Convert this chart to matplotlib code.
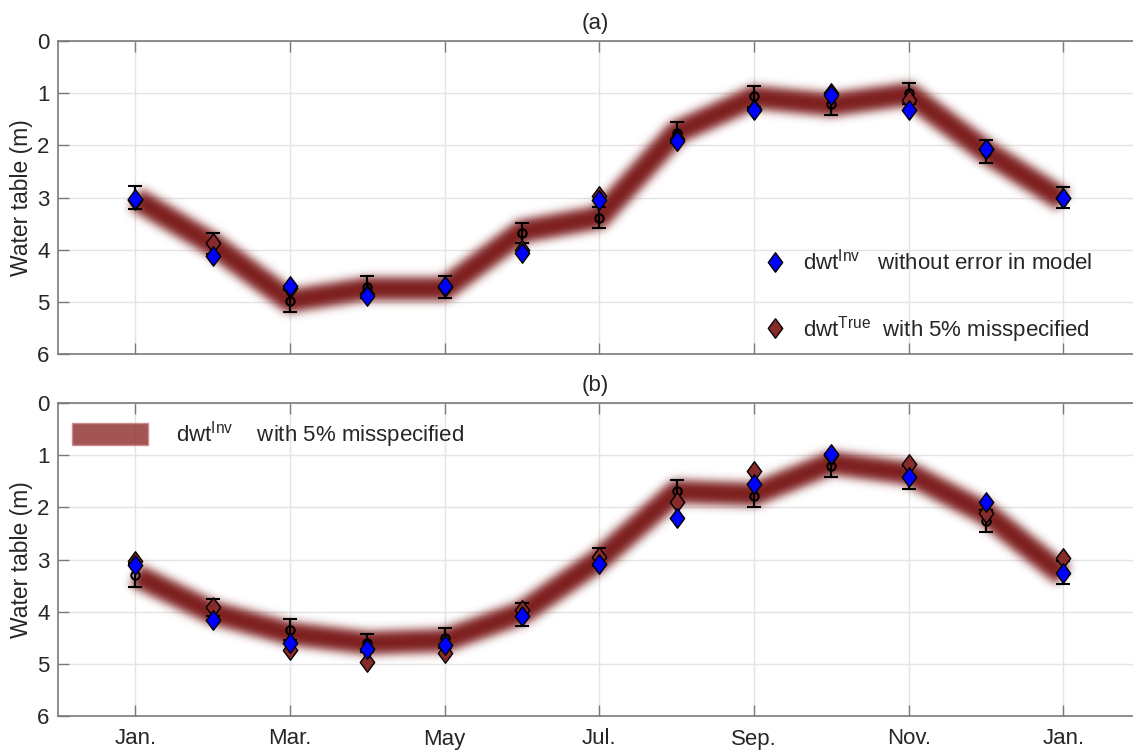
import matplotlib
matplotlib.use("Agg")
import matplotlib.pyplot as plt
from matplotlib.lines import Line2D
from matplotlib.patches import Patch
from matplotlib.path import Path
from matplotlib.colors import to_rgb
import numpy as np

plt.rcParams['font.family'] = ['Liberation Sans', 'DejaVu Sans']
plt.rcParams['mathtext.fontset'] = 'custom'
plt.rcParams['mathtext.rm'] = 'Liberation Sans'
plt.rcParams['mathtext.it'] = 'Liberation Sans:italic'

# Month index (0 = January of the first year, 12 = January of the next)
months = list(range(13))
tick_months = [0, 2, 4, 6, 8, 10, 12]
tick_labels = ["Jan.", "Mar.", "May", "Jul.", "Sep.", "Nov.", "Jan."]

# (a) depth to water table, m
band_a = [3.02, 3.90, 4.98, 4.75, 4.75, 3.65, 3.38, 1.75, 1.08, 1.22, 1.02, 2.12, 3.05]
obs_a = [3.00, 3.88, 4.98, 4.72, 4.72, 3.68, 3.39, 1.76, 1.06, 1.21, 1.00, 2.12, 3.00]
err_a = [0.23, 0.20, 0.21, 0.21, 0.21, 0.19, 0.20, 0.20, 0.20, 0.21, 0.20, 0.22, 0.20]
inv_a = [3.02, 4.12, 4.70, 4.88, 4.70, 4.06, 3.04, 1.92, 1.33, 1.04, 1.32, 2.07, 3.00]
true_a = [3.05, 3.87, 4.74, 4.85, 4.72, 4.00, 2.98, 1.88, 1.30, 1.00, 1.13, 2.07, 3.00]

# (b) depth to water table, m
band_b = [3.30, 4.02, 4.42, 4.60, 4.55, 4.02, 3.00, 1.70, 1.75, 1.15, 1.35, 2.12, 3.30]
obs_b = [3.30, 3.92, 4.35, 4.60, 4.51, 4.05, 2.95, 1.68, 1.78, 1.20, 1.42, 2.27, 3.25]
err_b = [0.22, 0.17, 0.20, 0.17, 0.19, 0.22, 0.18, 0.21, 0.22, 0.22, 0.22, 0.21, 0.22]
inv_b = [3.11, 4.16, 4.60, 4.72, 4.64, 4.08, 3.09, 2.20, 1.55, 0.98, 1.42, 1.90, 3.25]
true_b = [3.02, 3.91, 4.74, 4.96, 4.80, 3.97, 2.95, 1.90, 1.30, 1.00, 1.17, 2.10, 2.97]

band_color = '#7d1d1d'
true_color = '#862a2a'
inv_color = '#0000ff'
axis_color = '#7a7a7a'
text_color = '#262626'

# tall diamond marker
diamond = Path([(0, 1), (0.74, 0), (0, -1), (-0.74, 0), (0, 1)],
               [Path.MOVETO, Path.LINETO, Path.LINETO, Path.LINETO, Path.CLOSEPOLY])

W, H, DPI = 1133, 753, 100
fig = plt.figure(figsize=(W / DPI, H / DPI), dpi=DPI)
ax_a = fig.add_axes([58 / W, 1 - 354 / H, 1 - 58 / W, 313 / H])
ax_b = fig.add_axes([58 / W, 1 - 716 / H, 1 - 58 / W, 313 / H])
XLIM, YLIM = (-1, 12.9), (6, 0)


def gaussian_blur(img, sigma):
    r = int(3 * sigma)
    k = np.exp(-0.5 * (np.arange(-r, r + 1) / sigma) ** 2)
    k /= k.sum()
    img = np.apply_along_axis(lambda v: np.convolve(v, k, mode='same'), 0, img)
    img = np.apply_along_axis(lambda v: np.convolve(v, k, mode='same'), 1, img)
    return img


def soft_band(ax, x, y, lw=16.5, sigma=4.6):
    # draw the ribbon on a scratch canvas with the same axes geometry, then blur it
    scratch = plt.figure(figsize=(W / DPI, H / DPI), dpi=DPI)
    sax = scratch.add_axes(ax.get_position().bounds)
    sax.set_xlim(XLIM)
    sax.set_ylim(YLIM)
    sax.axis('off')
    sax.plot(x, y, color='black', lw=lw, solid_joinstyle='round',
             solid_capstyle='butt')
    scratch.canvas.draw()
    buf = np.asarray(scratch.canvas.buffer_rgba())[..., 0].astype(float)
    bb = sax.get_window_extent()
    plt.close(scratch)
    r0, r1 = int(round(H - bb.y1)), int(round(H - bb.y0))
    c0, c1 = int(round(bb.x0)), int(round(bb.x1))
    mask = 1.0 - buf[r0:r1, c0:c1] / 255.0
    alpha = np.clip(gaussian_blur(mask, sigma), 0, 1)
    rgba = np.zeros(alpha.shape + (4,))
    rgba[..., :3] = to_rgb(band_color)
    rgba[..., 3] = alpha
    ax.imshow(rgba, extent=(XLIM[0], XLIM[1], YLIM[0], YLIM[1]), aspect='auto',
              interpolation='bilinear', zorder=2)


def panel(ax, band, obs, err, inv, true, title):
    soft_band(ax, months, band)
    ax.errorbar(months, obs, yerr=err, fmt='o', ms=6, mfc='none', mec='black',
                mew=1.5, ecolor='black', elinewidth=1.6, capsize=5, capthick=1.6,
                zorder=3)
    ax.plot(months, true, ls='none', marker=diamond, ms=14, mfc=true_color,
            mec='black', mew=1.0, zorder=4)
    ax.plot(months, inv, ls='none', marker=diamond, ms=14, mfc=inv_color,
            mec='black', mew=1.0, zorder=5)
    ax.set_xlim(XLIM)
    ax.set_ylim(YLIM)
    ax.set_yticks([0, 1, 2, 3, 4, 5, 6])
    ax.set_xticks(tick_months)
    ax.grid(True, color='#e4e4e4', lw=1.0, zorder=0)
    ax.set_axisbelow(True)
    for side in ['left', 'bottom', 'top']:
        ax.spines[side].set_color(axis_color)
        ax.spines[side].set_linewidth(1.2)
    ax.spines['right'].set_visible(False)
    ax.tick_params(axis='both', direction='in', length=8, width=1.0,
                   color=axis_color, labelcolor=text_color, labelsize=16,
                   top=True, right=False)
    ax.tick_params(axis='y', pad=6)
    ax.tick_params(axis='x', pad=9)
    ax.set_ylabel('Water table (m)', fontsize=16.5, color=text_color, labelpad=3)
    ax.set_title(title, fontsize=16, color=text_color, pad=9)


panel(ax_a, band_a, obs_a, err_a, inv_a, true_a, '(a)')
panel(ax_b, band_b, obs_b, err_b, inv_b, true_b, '(b)')
ax_a.set_xticklabels([])
ax_b.set_xticklabels(tick_labels)

handles_a = [
    Line2D([], [], ls='none', marker=diamond, ms=14, mfc=inv_color, mec='black', mew=1.0),
    Line2D([], [], ls='none', marker=diamond, ms=14, mfc=true_color, mec='black', mew=1.0),
]
labels_a = [r'dwt$^{\mathrm{Inv}}$   without error in model',
            r'dwt$^{\mathrm{True}}$  with 5% misspecified']
ax_a.legend(handles_a, labels_a, loc='upper left', bbox_to_anchor=(765 / W, 1 - 249 / H),
            bbox_transform=fig.transFigure, frameon=False, fontsize=16,
            handlelength=0.9, handletextpad=0.8, labelspacing=1.75,
            borderpad=0, borderaxespad=0, labelcolor=text_color)

handles_b = [Patch(facecolor=(0.55, 0.17, 0.17, 0.8), edgecolor=(0.8, 0.55, 0.55), lw=1.0)]
labels_b = [r'dwt$^{\mathrm{Inv}}$    with 5% misspecified']
ax_b.legend(handles_b, labels_b, loc='upper left', bbox_to_anchor=(72 / W, 1 - 419 / H),
            bbox_transform=fig.transFigure, frameon=False, fontsize=16,
            handlelength=3.4, handleheight=1.15, handletextpad=1.3,
            borderpad=0, borderaxespad=0, labelcolor=text_color)

fig.savefig('out.png', dpi=DPI)
